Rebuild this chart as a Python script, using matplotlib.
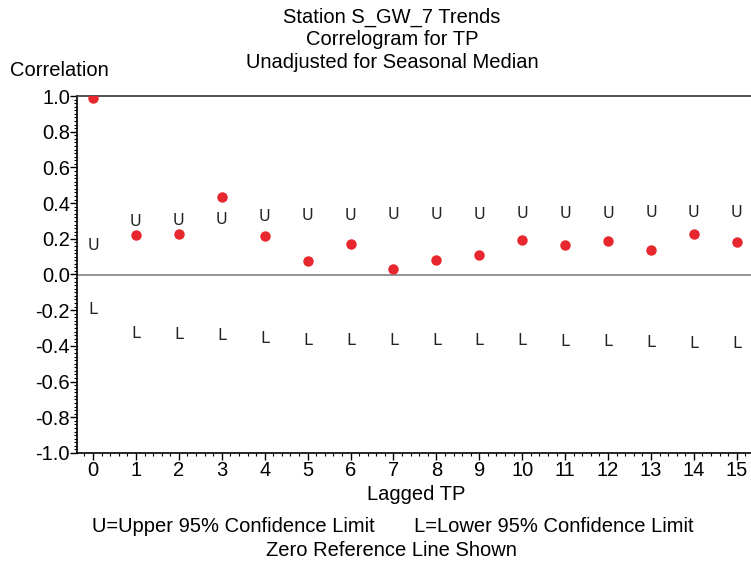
import matplotlib

matplotlib.use("Agg")
import matplotlib.pyplot as plt
from matplotlib.ticker import MultipleLocator
import numpy as np

# ---------------------------------------------------------------------------
# data
# ---------------------------------------------------------------------------
lags = np.arange(16)
correlation = [0.99, 0.219, 0.226, 0.433, 0.215, 0.073, 0.169, 0.030,
               0.079, 0.108, 0.191, 0.163, 0.189, 0.137, 0.229, 0.184]
upper_95 = [0.163, 0.298, 0.302, 0.309, 0.326, 0.328, 0.330, 0.335,
            0.335, 0.337, 0.340, 0.341, 0.343, 0.345, 0.347, 0.350]
lower_95 = [-0.198, -0.328, -0.334, -0.340, -0.358, -0.367, -0.367, -0.367,
            -0.367, -0.367, -0.371, -0.378, -0.378, -0.380, -0.385, -0.385]

title_lines = ["Station S_GW_7 Trends", "Correlogram for TP",
               "Unadjusted for Seasonal Median"]
footnotes = ["U=Upper 95% Confidence Limit       L=Lower 95% Confidence Limit",
             "Zero Reference Line Shown"]

plt.rcParams["font.family"] = ["Liberation Sans", "DejaVu Sans"]
FS = 14.5

W, H = 751, 563
fig = plt.figure(figsize=(W / 100, H / 100), dpi=100)
ax = fig.add_axes([77 / W, 1 - 453 / H, (W - 77) / W, (453 - 96) / H])

# -- zero reference line ----------------------------------------------------
ax.axhline(0.0, color="#8c8c8c", lw=1.3, zorder=1)

# -- confidence limits drawn as letters ---------------------------------------
for x, u, l in zip(lags, upper_95, lower_95):
    for val, letter in ((u, "U"), (l, "L")):
        ax.text(x, val, letter, ha="center", va="center", fontsize=11.5,
                family="DejaVu Sans", color="#222222", zorder=2)

# -- correlations -----------------------------------------------------------
ax.plot(lags, correlation, "o", color="#e8262d", ms=7.5, mec="none", zorder=3)

ax.set_xlim(-0.373, 15.33)
ax.set_ylim(-1.0, 1.0)
ax.xaxis.set_major_locator(MultipleLocator(1))
ax.xaxis.set_minor_locator(MultipleLocator(0.2))
ax.yaxis.set_major_locator(MultipleLocator(0.2))
ax.yaxis.set_minor_locator(MultipleLocator(0.02))
ax.yaxis.set_major_formatter(plt.FuncFormatter(lambda v, p: f"{v:.1f}"))
ax.tick_params(which="major", direction="out", length=5, width=1,
               labelsize=FS, pad=1)
ax.tick_params(which="minor", direction="out", length=2.5, width=0.8)
ax.tick_params(axis="y", pad=0)

ax.spines["right"].set_visible(False)
for s in ("left", "bottom", "top"):
    ax.spines[s].set_linewidth(1.2)
ax.spines["top"].set_color("#333333")

# -- labels -----------------------------------------------------------------
for i, line in enumerate(title_lines):
    fig.text(392 / W, 1 - (17 + 22.5 * i) / H, line, ha="center",
             va="center", fontsize=FS)
fig.text(59 / W, 1 - 70 / H, "Correlation", ha="center", va="center",
         fontsize=FS)
fig.text(416 / W, 1 - 494 / H, "Lagged TP", ha="center", va="center",
         fontsize=FS)
fig.text(393 / W, 1 - 527 / H, footnotes[0], ha="center", va="center",
         fontsize=FS)
fig.text(391 / W, 1 - 551 / H, footnotes[1], ha="center", va="center",
         fontsize=FS)

fig.savefig("out.png", dpi=100)
